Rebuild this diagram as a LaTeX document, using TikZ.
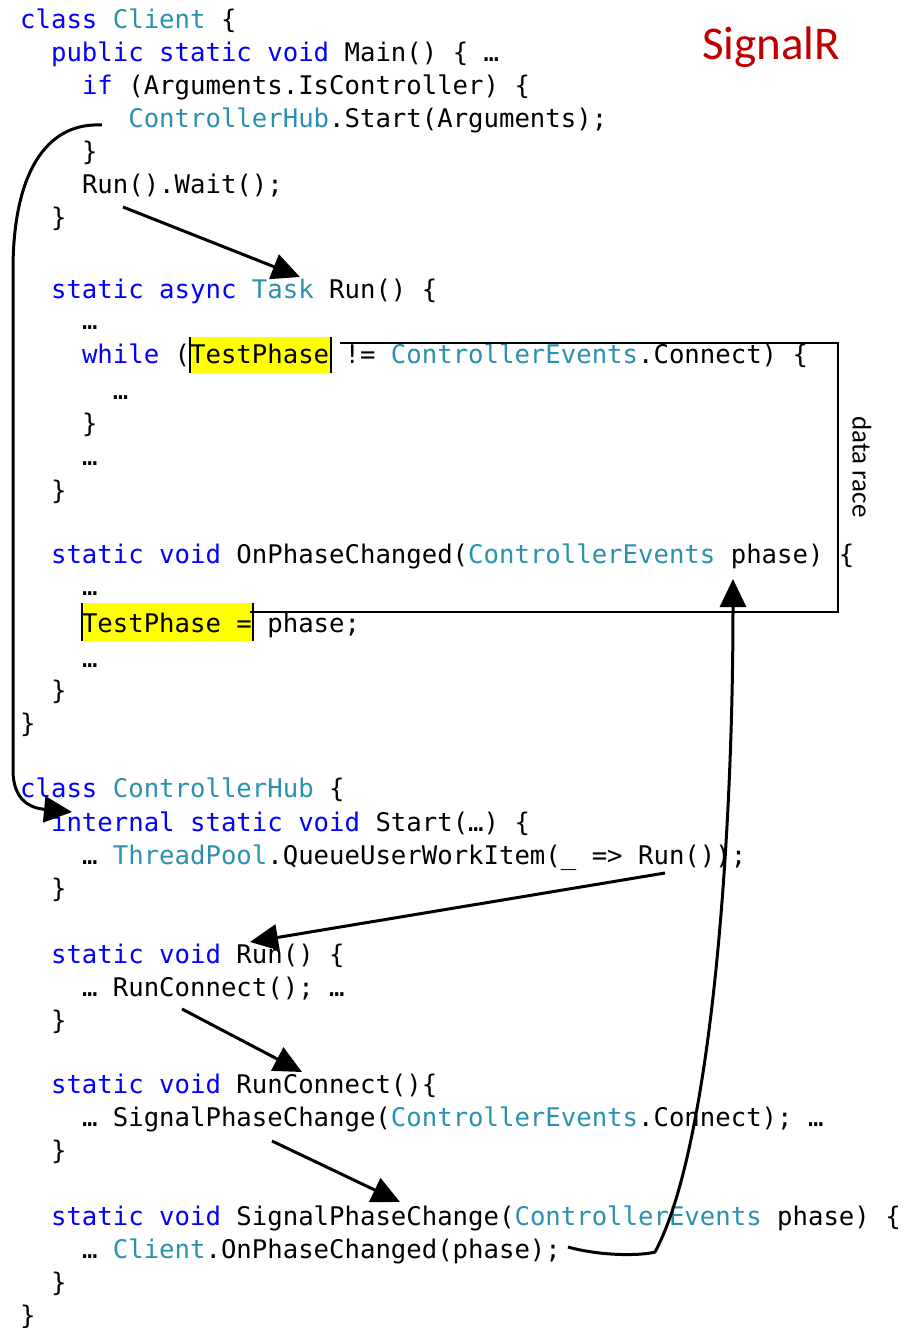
\documentclass[tikz,border=0pt]{standalone}
\usepackage{fontspec}
\usetikzlibrary{arrows.meta}
\newfontfamily\codefont{DejaVu Sans Mono}
\newfontfamily\labelfont{Carlito}
\definecolor{kwblue}{RGB}{0,0,255}
\definecolor{tyteal}{RGB}{43,145,175}
\definecolor{sigred}{RGB}{192,0,0}
\definecolor{hlyellow}{RGB}{255,255,0}
\newcommand\kw[1]{\textcolor{kwblue}{#1}}
\newcommand\ty[1]{\textcolor{tyteal}{#1}}
\frenchspacing
\begin{document}
\begin{tikzpicture}[x=1pt,y=-1pt,
  code/.style={anchor=base west, inner sep=0pt, text=black,
    font=\codefont\fontsize{25.66}{30}\selectfont},
  flow/.style={line width=3pt, -{Triangle[length=28pt,width=26pt]}},
  racebox/.style={line width=2.8pt},
  hlbox/.style={fill=hlyellow, draw=none},
  hlbar/.style={line width=1.3pt}]
\path[fill=white] (0,0) rectangle (912,1328);
\useasboundingbox (0,0) rectangle (912,1328);

% highlights
\fill[hlbox] (190,337) rectangle (330,373);
\fill[hlbox] (82,603) rectangle (253,641);
\draw[hlbar] (190,337) -- (190,373);
\draw[hlbar] (331,337) -- (331,373);
\draw[hlbar] (82,603) -- (82,641);
\draw[hlbar] (253,603) -- (253,641);

% code lines
\node[code] (l1)  at (20,28)    {\kw{class} \ty{Client} \{};
\node[code] (l2)  at (50.9,61)  {\kw{public} \kw{static} \kw{void} Main() \{ …};
\node[code] (l3)  at (81.8,94)  {\kw{if} (Arguments.IsController) \{};
\node[code] (l4)  at (128.15,127) {\ty{ControllerHub}.Start(Arguments);};
\node[code] (l5)  at (81.8,160) {\}};
\node[code] (l6)  at (81.8,193) {Run().Wait();};
\node[code] (l7)  at (50.9,226) {\}};
\node[code] (l8)  at (50.9,298) {\kw{static} \kw{async} \ty{Task} Run() \{};
\node[code] (l9)  at (81.8,329) {…};
\node[code] (l10) at (81.8,363) {\kw{while} (TestPhase != \ty{ControllerEvents}.Connect) \{};
\node[code] (l11) at (112.7,399) {…};
\node[code] (l12) at (81.8,432) {\}};
\node[code] (l13) at (81.8,465) {…};
\node[code] (l14) at (50.9,499) {\}};
\node[code] (l15) at (50.9,563) {\kw{static} \kw{void} OnPhaseChanged(\ty{ControllerEvents} phase) \{};
\node[code] (l16) at (81.8,595) {…};
\node[code] (l17) at (81.8,632) {TestPhase = phase;};
\node[code] (l18) at (81.8,667) {…};
\node[code] (l19) at (50.9,699) {\}};
\node[code] (l20) at (20,732)   {\}};
\node[code] (l21) at (20,797)   {\kw{class} \ty{ControllerHub} \{};
\node[code] (l22) at (50.9,831) {\kw{internal} \kw{static} \kw{void} Start(…) \{};
\node[code] (l23) at (81.8,864) {… \ty{ThreadPool}.QueueUserWorkItem(\_ => Run());};
\node[code] (l24) at (50.9,897) {\}};
\node[code] (l25) at (50.9,963) {\kw{static} \kw{void} Run() \{};
\node[code] (l26) at (81.8,996) {… RunConnect(); …};
\node[code] (l27) at (50.9,1029) {\}};
\node[code] (l28) at (50.9,1093) {\kw{static} \kw{void} RunConnect()\{};
\node[code] (l29) at (81.8,1126) {… SignalPhaseChange(\ty{ControllerEvents}.Connect); …};
\node[code] (l30) at (50.9,1159) {\}};
\node[code] (l31) at (50.9,1225) {\kw{static} \kw{void} SignalPhaseChange(\ty{ControllerEvents} phase) \{};
\node[code] (l32) at (81.8,1258) {… \ty{Client}.OnPhaseChanged(phase);};
\node[code] (l33) at (50.9,1291) {\}};
\node[code] (l34) at (20,1324)  {\}};

% labels
\node[anchor=base west, inner sep=0pt, text=sigred,
  font=\labelfont\fontsize{47}{52}\selectfont] (title) at (702,59) {SignalR};
\node[rotate=-90, inner sep=0pt, text=black,
  font=\labelfont\fontsize{27}{30}\selectfont] (race) at (862,467) {data race};

% data race box
\coordinate (rA) at (340,343);
\coordinate (rB) at (838,343);
\coordinate (rC) at (838,612);
\coordinate (rD) at (250,612);
\draw[racebox] (rA) -- (rB) -- (rC) -- (rD);

% connector end points
\coordinate (s1) at (102,125);
\coordinate (t1) at (72,812);
\coordinate (s2) at (123,207);
\coordinate (t2) at (300,277);
\coordinate (s3) at (665,873);
\coordinate (t3) at (250,942);
\coordinate (s4) at (182,1009);
\coordinate (t4) at (302,1072);
\coordinate (s5) at (272,1141);
\coordinate (t5) at (400,1202);
\coordinate (s6) at (568,1247);
\coordinate (k6) at (655,1252);
\coordinate (t6) at (733,579);

\draw[flow] (s1) .. controls (45,122) and (13,175) .. (13,270) -- (13,770)
  .. controls (13,800) and (30,808) .. (t1);
\draw[flow] (s2) -- (t2);
\draw[flow] (s3) -- (t3);
\draw[flow] (s4) -- (t4);
\draw[flow] (s5) -- (t5);
\draw[flow] (s6) .. controls (600,1256) and (640,1256) .. (k6)
  .. controls (710,1150) and (733,850) .. (t6);
\end{tikzpicture}
\end{document}
